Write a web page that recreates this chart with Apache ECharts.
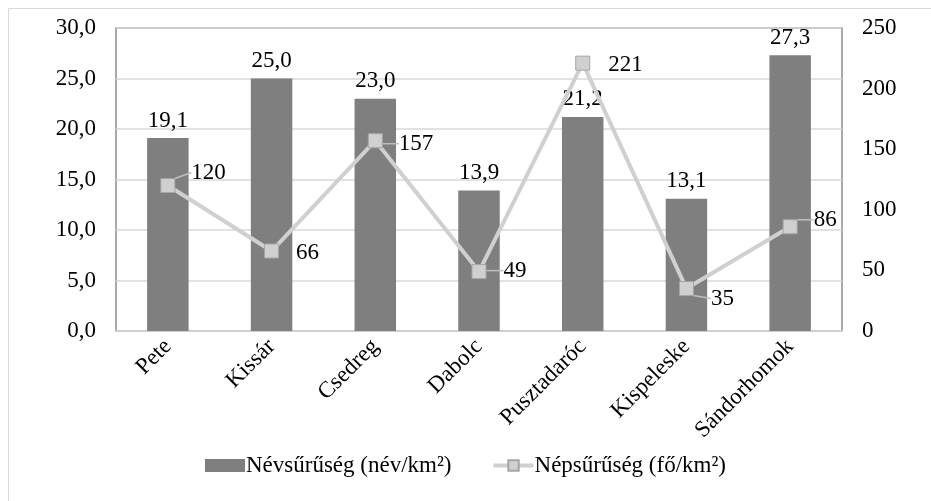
<!DOCTYPE html>
<html>
<head>
<meta charset="utf-8">
<script src="https://cdn.jsdelivr.net/npm/echarts@6/dist/echarts.min.js"></script>
<style>html,body{margin:0;padding:0;background:#fff}#c{width:931px;height:501px}</style>
</head>
<body>
<div id="c"></div>
<script>
const categories = ['Pete', 'Kissár', 'Csedreg', 'Dabolc', 'Pusztadaróc', 'Kispeleske', 'Sándorhomok'];
const nameDensity = [19.1, 25.0, 23.0, 13.9, 21.2, 13.1, 27.3];
const popDensity = [120, 66, 157, 49, 221, 35, 86];
const barName = 'Névsűrűség (név/km²)';
const lineName = 'Népsűrűség (fő/km²)';
// label shifts for the line labels (dx, dy) and whether a leader line is drawn
const lineLabelShifts = [[6, -13], [7, 2], [6, 3], [7, -1], [8, 2], [7, 10], [6, -7]];
const lineLabelLeader = [true, false, true, true, false, true, true];

const FONT = "'Liberation Serif', 'Times New Roman', serif";
const FS = 23;
const chart = echarts.init(document.getElementById('c'), null, {renderer: 'canvas'});
const fmt = v => Number(v).toFixed(1).replace('.', ',');

chart.setOption({
  animation: false,
  textStyle: {fontFamily: FONT, color: '#000'},
  graphic: [{
    type: 'rect', shape: {x: 8.5, y: 8.5, width: 940, height: 510},
    style: {fill: 'none', stroke: '#d9d9d9', lineWidth: 1}, silent: true, z: -10
  }],
  grid: {left: 116, right: 89, top: 28, bottom: 170, show: true, borderColor: '#8c8c8c', borderWidth: 1.5},
  legend: {
    bottom: 19, left: 'center', itemGap: 40, itemWidth: 40, itemHeight: 13,
    lineStyle: {width: 4, color: '#d0d0d0'},
    textStyle: {fontFamily: FONT, fontSize: FS, color: '#000', padding: [0, 0, 0, -4]},
    data: [
      {name: barName, icon: 'rect'},
      {name: lineName}
    ]
  },
  xAxis: {
    type: 'category', data: categories,
    axisLine: {show: true, lineStyle: {color: '#d0d0d0', width: 2}},
    axisTick: {show: false},
    axisLabel: {rotate: 45, fontFamily: FONT, fontSize: FS, color: '#000', margin: 12, interval: 0}
  },
  yAxis: [{
    type: 'value', min: 0, max: 30, interval: 5,
    axisLine: {show: false}, axisTick: {show: false},
    splitLine: {lineStyle: {color: '#d9d9d9', width: 1.5}},
    axisLabel: {formatter: fmt, fontFamily: FONT, fontSize: FS, color: '#000', margin: 20}
  }, {
    type: 'value', min: 0, max: 250, interval: 50,
    axisLine: {show: false}, axisTick: {show: false}, splitLine: {show: false},
    axisLabel: {fontFamily: FONT, fontSize: FS, color: '#000', margin: 20}
  }],
  series: [{
    name: barName, type: 'bar', data: nameDensity, barWidth: '40%',
    itemStyle: {color: '#7f7f7f'},
    label: {show: true, position: 'top', distance: 6, formatter: p => fmt(p.value),
      fontFamily: FONT, fontSize: FS, color: '#000'}
  }, {
    name: lineName, type: 'line', yAxisIndex: 1,
    data: popDensity.map((v, i) => ({value: v, labelLine: {show: lineLabelLeader[i]}})),
    symbol: 'rect', symbolSize: 14, z: 5,
    lineStyle: {color: '#d0d0d0', width: 4},
    itemStyle: {color: '#d0d0d0', borderColor: '#a6a6a6', borderWidth: 1},
    label: {show: true, position: 'right', distance: 10, fontFamily: FONT, fontSize: FS, color: '#000'},
    labelLayout: p => ({dx: lineLabelShifts[p.dataIndex][0], dy: lineLabelShifts[p.dataIndex][1]}),
    labelLine: {show: true, showAbove: false, lineStyle: {color: '#bfbfbf', width: 1.5}}
  }]
});
</script>
</body>
</html>
